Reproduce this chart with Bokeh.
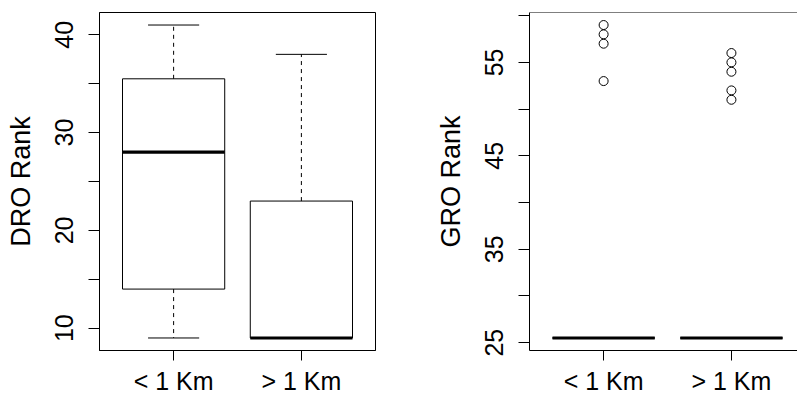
import math
from bokeh.plotting import figure
from bokeh.layouts import row
from bokeh.models import FixedTicker, Range1d, Span
from bokeh.embed import file_html
from bokeh.resources import INLINE

# ---- data ----
categories = ["< 1 Km", "> 1 Km"]

# DRO Rank box statistics
dro_low = [9, 9]
dro_q1 = [14, 9]
dro_median = [28, 9]
dro_q3 = [35.5, 23]
dro_high = [41, 38]

# GRO Rank box statistics (fully collapsed boxes)
gro_low = [25.5, 25.5]
gro_q1 = [25.5, 25.5]
gro_median = [25.5, 25.5]
gro_q3 = [25.5, 25.5]
gro_high = [25.5, 25.5]
gro_outliers = [[59, 58, 57, 53], [56, 55, 54, 52, 51]]

dro_ticks = [10, 15, 20, 25, 30, 35, 40]
dro_tick_labels = ["10", "", "20", "", "30", "", "40"]
gro_ticks = [25, 30, 35, 40, 45, 50, 55, 60]
gro_tick_labels = ["25", "", "35", "", "45", "", "55", ""]

FONT = "Liberation Sans"
positions = [i + 1 for i in range(len(categories))]
BOX_HALF = 0.4
CAP_HALF = 0.2


def style(p, yticks, ylabels, ylab):
    p.xaxis.ticker = FixedTicker(ticks=positions)
    p.xaxis.major_label_overrides = {pos: c for pos, c in zip(positions, categories)}
    p.yaxis.ticker = FixedTicker(ticks=yticks)
    p.yaxis.major_label_overrides = {t: l for t, l in zip(yticks, ylabels)}
    p.grid.visible = False
    for ax in (p.xaxis, p.yaxis):
        ax.axis_line_color = "black"
        ax.major_tick_line_color = "black"
        ax.minor_tick_line_color = None
        ax.major_tick_in = 0
        ax.major_label_text_font = FONT
        ax.major_label_text_color = "black"
    p.xaxis.major_tick_out = 10
    p.xaxis.major_label_standoff = 6
    p.xaxis.major_label_text_font_size = "25px"
    p.yaxis.major_tick_out = 11
    p.yaxis.major_label_standoff = 15
    p.yaxis.major_label_text_font_size = "25px"
    p.yaxis.major_label_orientation = "vertical"
    p.yaxis.axis_label = ylab
    p.yaxis.axis_label_text_font = FONT
    p.yaxis.axis_label_text_font_size = "27px"
    p.yaxis.axis_label_text_font_style = "normal"
    p.yaxis.axis_label_text_color = "black"
    p.yaxis.axis_label_standoff = 17


def draw_boxes(p, low, q1, med, q3, high):
    left = [x - BOX_HALF for x in positions]
    right = [x + BOX_HALF for x in positions]
    p.quad(left=left, right=right, bottom=q1, top=q3, fill_color="white",
           line_color="black", line_width=1)
    # whiskers
    p.segment(x0=positions, y0=q3, x1=positions, y1=high, line_color="black",
              line_width=1, line_dash="4 4")
    p.segment(x0=positions, y0=q1, x1=positions, y1=low, line_color="black",
              line_width=1, line_dash="4 4")
    p.segment(x0=[x - CAP_HALF for x in positions], y0=high,
              x1=[x + CAP_HALF for x in positions], y1=high,
              line_color="black", line_width=1)
    p.segment(x0=[x - CAP_HALF for x in positions], y0=low,
              x1=[x + CAP_HALF for x in positions], y1=low,
              line_color="black", line_width=1)
    p.segment(x0=left, y0=med, x1=right, y1=med, line_color="black",
              line_width=3.2, line_cap="butt")


# ---- left panel ----
p1 = figure(width=430, height=397, output_backend="svg", toolbar_location=None,
            x_range=Range1d(0.42, 2.58), y_range=Range1d(7.72, 42.28),
            min_border_left=99, min_border_right=55, min_border_top=12,
            min_border_bottom=45)
p1.outline_line_color = "black"
p1.outline_line_width = 1
style(p1, dro_ticks, dro_tick_labels, "DRO Rank")
draw_boxes(p1, dro_low, dro_q1, dro_median, dro_q3, dro_high)

# ---- right panel ----
p2 = figure(width=367, height=397, output_backend="svg", toolbar_location=None,
            x_range=Range1d(0.42, 2.517), y_range=Range1d(24.16, 60.34),
            min_border_left=99, min_border_right=0, min_border_top=12,
            min_border_bottom=45)
p2.outline_line_color = None
style(p2, gro_ticks, gro_tick_labels, "GRO Rank")
draw_boxes(p2, gro_low, gro_q1, gro_median, gro_q3, gro_high)
p2.add_layout(Span(location=60.34, dimension="width", line_color="black", line_width=1))
ox, oy = [], []
for pos, vals in zip(positions, gro_outliers):
    for v in vals:
        ox.append(pos)
        oy.append(v)
p2.scatter(ox, oy, size=9, marker="circle", fill_color=None, line_color="black",
           line_width=1)

layout = row(p1, p2)
open("out.html", "w").write(file_html(layout, INLINE))
